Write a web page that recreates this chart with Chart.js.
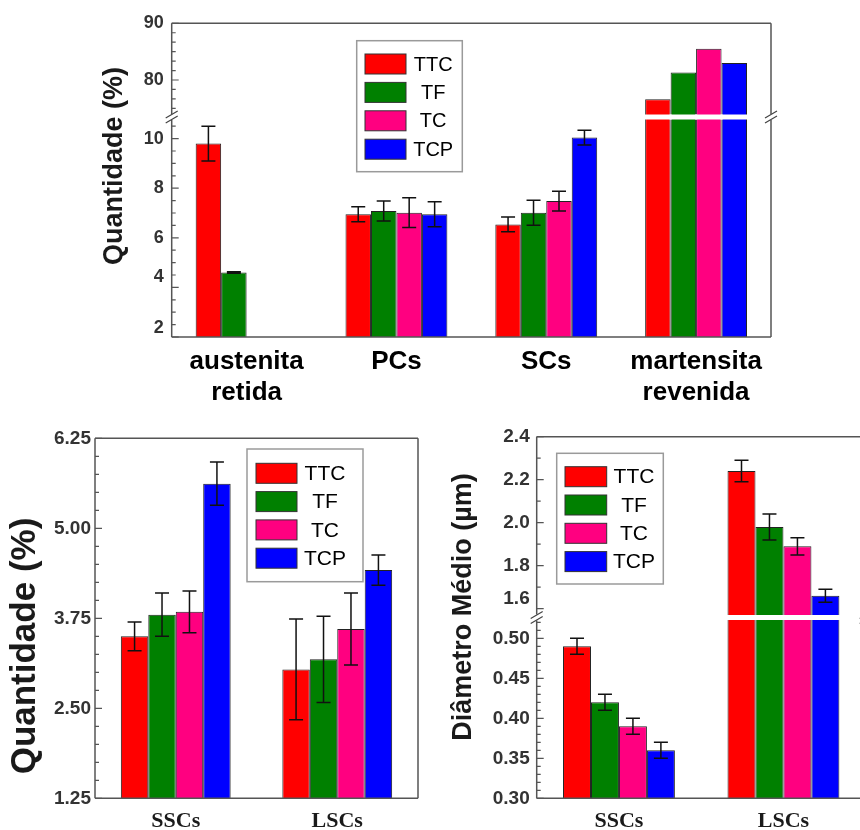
<!DOCTYPE html>
<html>
<head>
<meta charset="utf-8">
<script src="https://cdn.jsdelivr.net/npm/chart.js@4/dist/chart.umd.min.js"></script>
<style>
  html, body { margin: 0; padding: 0; background: #fff; overflow: hidden; width: 860px; height: 830px; }
  canvas { position: absolute; }
</style>
</head>
<body>
<canvas id="phases" width="860" height="410" style="left:0;top:0;width:860px;height:410px"></canvas>
<canvas id="carbQty" width="430" height="420" style="left:0;top:410px;width:430px;height:420px"></canvas>
<canvas id="carbDiam" width="450" height="420" style="left:430px;top:410px;width:450px;height:420px"></canvas>
<script>
// ---------------- data ----------------
const seriesNames = ['TTC', 'TF', 'TC', 'TCP'];

// Phase fractions (%)
const phaseCategories = [['austenita', 'retida'], 'PCs', 'SCs', ['martensita', 'revenida']];
const phaseTTC = [9.8, 6.95, 6.54, 76.6];
const phaseTF  = [4.6, 7.08, 7.01, 81.3];
const phaseTC  = [null, 7.01, 7.48, 85.5];
const phaseTCP = [null, 6.95, 10.04, 83.0];
const phaseErrTTC = [0.7, 0.3, 0.3, 0];
const phaseErrTF  = [0.03, 0.4, 0.5, 0];
const phaseErrTC  = [0, 0.6, 0.4, 0];
const phaseErrTCP = [0, 0.5, 0.3, 0];
const phaseTicks = [2, 4, 6, 8, 10, 80, 90];

// Carbide amount (%)
const carbCategories = ['SSCs', 'LSCs'];
const qtyTTC = [3.5, 3.04];
const qtyTF  = [3.8, 3.18];
const qtyTC  = [3.84, 3.6];
const qtyTCP = [5.62, 4.42];
const qtyErrTTC = [0.2, 0.7];
const qtyErrTF  = [0.3, 0.6];
const qtyErrTC  = [0.29, 0.5];
const qtyErrTCP = [0.3, 0.21];
const qtyTicks = [1.25, 2.5, 3.75, 5.0, 6.25];

// Carbide mean diameter (µm)
const diamTTC = [0.49, 2.24];
const diamTF  = [0.42, 1.98];
const diamTC  = [0.39, 1.89];
const diamTCP = [0.36, 1.66];
const diamErrTTC = [0.01, 0.05];
const diamErrTF  = [0.01, 0.06];
const diamErrTC  = [0.01, 0.04];
const diamErrTCP = [0.01, 0.03];
const diamTicks = [0.30, 0.35, 0.40, 0.45, 0.50, 1.6, 1.8, 2.0, 2.2, 2.4];

// ---------------- style ----------------
const seriesColors = ['#ff0000', '#008000', '#ff0080', '#0000ff'];
const SANS = "'Liberation Sans', Arial, sans-serif";
const SERIF = "'Liberation Serif', 'Times New Roman', serif";
Chart.defaults.font.family = SANS;

// minor tick positions between the labelled ticks
function minorSteps(from, to, step, majors) {
  const out = [];
  const n = Math.round((to - from) / step);
  for (let k = 0; k <= n; k++) {
    const v = Math.round((from + k * step) * 10000) / 10000;
    if (!majors.some(m => Math.abs(m - v) < 1e-6)) out.push(v);
  }
  return out;
}

// Linear axis with an optional break: value ranges in breakValues map
// piecewise onto the fractions of the axis length in breakDecimals.
class BrokenLinearScale extends Chart.LinearScale {
  static id = 'brokenLinear';
  buildTicks() {
    return (this.options.majorTicks || []).map(v => ({ value: v }));
  }
  _decimalOf(value) {
    const vals = this.options.breakValues, decs = this.options.breakDecimals;
    const n = vals.length - 1;
    if (value <= vals[0]) return decs[0] + (value - vals[0]) / (vals[1] - vals[0]) * (decs[1] - decs[0]);
    if (value >= vals[n]) return decs[n] + (value - vals[n]) / (vals[n] - vals[n - 1]) * (decs[n] - decs[n - 1]);
    for (let i = 0; i < n; i++) {
      if (value <= vals[i + 1]) {
        const span = vals[i + 1] - vals[i];
        return span > 0 ? decs[i] + (value - vals[i]) / span * (decs[i + 1] - decs[i]) : decs[i];
      }
    }
    return decs[n];
  }
  getPixelForValue(value) {
    if (value === null || value === undefined || isNaN(value)) return NaN;
    return this.getPixelForDecimal(this._decimalOf(value));
  }
  getValueForPixel(pixel) {
    const d = this.getDecimalForPixel(pixel);
    const vals = this.options.breakValues, decs = this.options.breakDecimals;
    for (let i = 0; i < vals.length - 1; i++) {
      if (d <= decs[i + 1] && decs[i + 1] > decs[i]) {
        return vals[i] + (d - decs[i]) / (decs[i + 1] - decs[i]) * (vals[i + 1] - vals[i]);
      }
    }
    return vals[vals.length - 1];
  }
  getPixelForTick(index) {
    const t = this.ticks[index];
    if (!t) return NaN;
    let p = this.getPixelForValue(t.value);
    const nudge = this.options.labelNudge || [];
    for (let k = 0; k < nudge.length; k += 2) if (nudge[k] === t.value) p += nudge[k + 1];
    return p;
  }
}
Chart.register(BrokenLinearScale);

// error bars, axis break, frame, tick marks, legend box and axis title
const decor = {
  id: 'decor',
  afterDatasetsDraw(chart, args, o) {
    const ctx = chart.ctx;
    const { left, right, top, bottom } = chart.chartArea;
    const ys = chart.scales.y;
    ctx.save();

    // error bars
    ctx.strokeStyle = '#111';
    ctx.lineWidth = 1.5;
    chart.data.datasets.forEach((ds, di) => {
      chart.getDatasetMeta(di).data.forEach((bar, i) => {
        const v = ds.data[i];
        const e = ds.errors ? ds.errors[i] : 0;
        if (v == null || !e) return;
        const x = bar.x;
        const yt = ys.getPixelForValue(v + e), yb = ys.getPixelForValue(v - e);
        ctx.beginPath();
        ctx.moveTo(x, yt); ctx.lineTo(x, yb);
        ctx.moveTo(x - 7, yt); ctx.lineTo(x + 7, yt);
        ctx.moveTo(x - 7, yb); ctx.lineTo(x + 7, yb);
        ctx.stroke();
      });
    });

    // white band through bars that cross the axis break
    let bp = null;
    if (o.breakAt != null) {
      bp = ys.getPixelForValue(o.breakAt);
      ctx.fillStyle = '#fff';
      chart.data.datasets.forEach((ds, di) => {
        chart.getDatasetMeta(di).data.forEach((bar, i) => {
          if (ds.data[i] != null && ds.data[i] > o.breakAt) {
            ctx.fillRect(bar.x - bar.width / 2 - 1, bp - 2.5, bar.width + 2, 5);
          }
        });
      });
    }

    // frame
    ctx.strokeStyle = '#555';
    ctx.lineWidth = 1.5;
    ctx.beginPath();
    ctx.moveTo(left, top); ctx.lineTo(right, top);
    ctx.moveTo(left, bottom); ctx.lineTo(right, bottom);
    for (const x of [left, right]) {
      if (bp != null) {
        ctx.moveTo(x, top); ctx.lineTo(x, bp - 3);
        ctx.moveTo(x, bp + 3); ctx.lineTo(x, bottom);
      } else {
        ctx.moveTo(x, top); ctx.lineTo(x, bottom);
      }
    }
    ctx.stroke();

    // inward tick marks on the value axis
    ctx.lineWidth = 1.2;
    ctx.beginPath();
    ys.ticks.forEach(t => {
      const y = ys.getPixelForValue(t.value);
      ctx.moveTo(left, y); ctx.lineTo(left + 7, y);
    });
    (o.minorTicks || []).forEach(v => {
      const y = ys.getPixelForValue(v);
      ctx.moveTo(left, y); ctx.lineTo(left + 4, y);
    });
    ctx.stroke();

    // break marks
    if (bp != null) {
      ctx.strokeStyle = '#444';
      ctx.lineWidth = 1.2;
      for (const x of [left, right]) {
        ctx.beginPath();
        for (const off of [-2.5, 2.5]) {
          ctx.moveTo(x - 6, bp + off + 3.5);
          ctx.lineTo(x + 6, bp + off - 3.5);
        }
        ctx.stroke();
      }
    }

    // legend box
    const L = o.legend;
    if (L) {
      const bx = left + L.dx, by = top + L.dy;
      ctx.fillStyle = '#fff';
      ctx.fillRect(bx, by, L.w, L.h);
      ctx.strokeStyle = '#9a9a9a';
      ctx.lineWidth = 1.5;
      ctx.strokeRect(bx, by, L.w, L.h);
      ctx.font = L.fontSize + 'px ' + SANS;
      ctx.textAlign = 'center';
      ctx.textBaseline = 'middle';
      chart.data.datasets.forEach((ds, i) => {
        const cy = by + L.firstRow + i * L.rowGap;
        ctx.fillStyle = ds.backgroundColor;
        ctx.fillRect(bx + L.swatchDx, cy - 10, L.swatchW, 20);
        ctx.strokeStyle = '#333';
        ctx.lineWidth = 1;
        ctx.strokeRect(bx + L.swatchDx, cy - 10, L.swatchW, 20);
        ctx.fillStyle = '#000';
        ctx.fillText(ds.label, bx + L.textCx, cy + 1);
      });
    }

    // axis title
    const T = o.title;
    if (T) {
      ctx.translate(T.x, T.y);
      ctx.rotate(-Math.PI / 2);
      ctx.font = 'bold ' + T.size + 'px ' + SANS;
      ctx.fillStyle = '#1a1a1a';
      ctx.textAlign = 'center';
      ctx.textBaseline = 'middle';
      ctx.fillText(T.text, 0, 0);
    }
    ctx.restore();
  }
};

function barSets(values, errors) {
  return seriesNames.map((name, i) => ({
    label: name,
    data: values[i],
    errors: errors[i],
    backgroundColor: seriesColors[i],
    borderColor: '#222',
    borderWidth: 1,
    categoryPercentage: 0.68,
    barPercentage: 1.0
  }));
}

function xAxis(font, color, pad, height) {
  return {
    grid: { display: false, drawTicks: false },
    border: { display: false },
    ticks: { font: font, color: color, padding: pad, maxRotation: 0, autoSkip: false },
    afterFit(s) { s.height = height; }
  };
}

function yAxis(min, max, breakValues, breakDecimals, majorTicks, nudge, fontSize, pad, fmt) {
  return {
    type: 'brokenLinear',
    min: min, max: max,
    breakValues: breakValues,
    breakDecimals: breakDecimals,
    majorTicks: majorTicks,
    labelNudge: nudge,
    grid: { display: false, drawTicks: false },
    border: { display: false },
    ticks: { font: { size: fontSize, weight: 'bold' }, color: '#333', padding: pad, autoSkip: false, callback: fmt },
    afterFit(s) { s.width = 60; }
  };
}

const common = { responsive: false, animation: false, events: [] };

// ---- phase fractions ----
new Chart(document.getElementById('phases'), {
  type: 'bar',
  data: {
    labels: phaseCategories,
    datasets: barSets([phaseTTC, phaseTF, phaseTC, phaseTCP],
                      [phaseErrTTC, phaseErrTF, phaseErrTC, phaseErrTCP])
  },
  options: Object.assign({}, common, {
    layout: { padding: { left: 111.7, top: 23.3, right: 89, bottom: 0 } },
    plugins: {
      legend: { display: false },
      tooltip: { enabled: false },
      decor: {
        breakAt: 10.87,
        minorTicks: minorSteps(2, 10.5, 0.5, phaseTicks)
          .concat([75, 76.667, 78.333, 81.667, 83.333, 85, 86.667, 88.333]),
        legend: { dx: 185, dy: 17.4, w: 105.6, h: 131, swatchDx: 8.3, swatchW: 41,
                  firstRow: 23.3, rowGap: 28.4, textCx: 76.5, fontSize: 20 },
        title: { text: 'Quantidade (%)', x: 115, y: 166, size: 27 }
      }
    },
    scales: {
      x: xAxis({ size: 26, weight: 'bold', lineHeight: 1.2 }, '#000', 9, 73),
      y: yAxis(2, 90, [2, 10.87, 73.47, 90], [0, 0.7013, 0.7013, 1], phaseTicks,
               [4, -10, 2, -9], 18, 8, v => String(v))
    }
  }),
  plugins: [decor]
});

// ---- carbide amount ----
new Chart(document.getElementById('carbQty'), {
  type: 'bar',
  data: {
    labels: carbCategories,
    datasets: barSets([qtyTTC, qtyTF, qtyTC, qtyTCP],
                      [qtyErrTTC, qtyErrTF, qtyErrTC, qtyErrTCP])
  },
  options: Object.assign({}, common, {
    layout: { padding: { left: 35, top: 28.3, right: 12, bottom: 0 } },
    plugins: {
      legend: { display: false },
      tooltip: { enabled: false },
      decor: {
        breakAt: null,
        minorTicks: minorSteps(1.25, 6.25, 0.25, qtyTicks),
        legend: { dx: 152, dy: 10.7, w: 116, h: 132.7, swatchDx: 9, swatchW: 41,
                  firstRow: 24.3, rowGap: 28.3, textCx: 78, fontSize: 21 },
        title: { text: 'Quantidade (%)', x: 25, y: 236, size: 35 }
      }
    },
    scales: {
      x: xAxis({ family: SERIF, size: 22, weight: 'bold', lineHeight: 1.2 }, '#1a1a1a', 10, 31.7),
      y: yAxis(1.25, 6.25, [1.25, 6.25], [0, 1], qtyTicks, [], 19, 4, v => v.toFixed(2))
    }
  }),
  plugins: [decor]
});

// ---- carbide mean diameter ----
new Chart(document.getElementById('carbDiam'), {
  type: 'bar',
  data: {
    labels: carbCategories,
    datasets: barSets([diamTTC, diamTF, diamTC, diamTCP],
                      [diamErrTTC, diamErrTF, diamErrTC, diamErrTCP])
  },
  options: Object.assign({}, common, {
    layout: { padding: { left: 46.7, top: 26.7, right: 14.3, bottom: 0 } },
    plugins: {
      legend: { display: false },
      tooltip: { enabled: false },
      decor: {
        breakAt: 0.526,
        minorTicks: minorSteps(0.30, 0.52, 0.01, diamTicks).concat([1.7, 1.9, 2.1, 2.3]),
        legend: { dx: 20, dy: 16.6, w: 106.6, h: 130.7, swatchDx: 8.3, swatchW: 41.7,
                  firstRow: 23.4, rowGap: 28.3, textCx: 77.3, fontSize: 21 },
        title: { text: 'Diâmetro Médio (µm)', x: 34, y: 197, size: 27 }
      }
    },
    scales: {
      x: xAxis({ family: SERIF, size: 22, weight: 'bold', lineHeight: 1.2 }, '#1a1a1a', 10, 31.7),
      y: yAxis(0.3, 2.4, [0.3, 0.526, 1.559, 2.4], [0, 0.5, 0.5, 1], diamTicks,
               [1.6, -10], 19, 7, v => (v < 1 ? v.toFixed(2) : v.toFixed(1)))
    }
  }),
  plugins: [decor]
});
</script>
</body>
</html>
